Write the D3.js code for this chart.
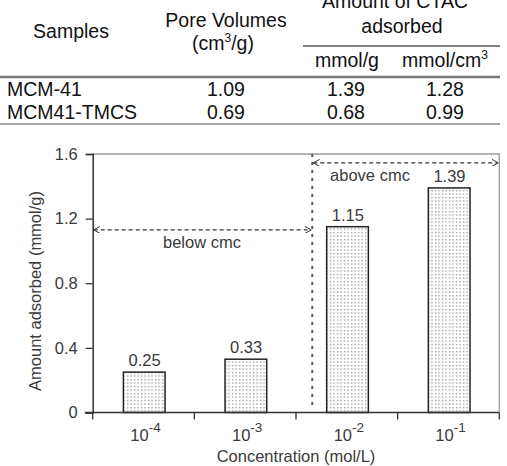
<!DOCTYPE html>
<html>
<head>
<meta charset="utf-8">
<script src="https://cdn.jsdelivr.net/npm/d3@7"></script>
<style>
	body { margin: 0; background: #fff; }
	svg { display: block; }
</style>
</head>
<body>
<script>
// table data
let tableSamples = ["MCM-41", "MCM41-TMCS"];
let porevolumes = ["1.09", "0.69"];
let adsorbedPerGram = ["1.39", "0.68"];
let adsorbedPerCm3 = ["1.28", "0.99"];

// chart data
let concentrations = ["-4", "-3", "-2", "-1"];
let amounts = [0.25, 0.33, 1.15, 1.39];
let yTicks = [0, 0.4, 0.8, 1.2, 1.6];

let width = 507;
let height = 466;
let tableFont = "'Liberation Sans', Arial, sans-serif";

let svg = d3.select("body")
	.append("svg")
	.attr("width", width)
	.attr("height", height);

drawTable();
drawChart();

function drawTable() {
	let g = svg.append("g")
		.attr("font-family", tableFont)
		.attr("font-size", 19.5)
		.attr("fill", "#111");

	let colX = [7, 226, 346, 445];

	g.append("text").attr("x", 71).attr("y", 38)
		.attr("text-anchor", "middle").text("Samples");
	g.append("text").attr("x", 226).attr("y", 27)
		.attr("text-anchor", "middle").text("Pore Volumes");
	let cm = g.append("text").attr("x", 223).attr("y", 50)
		.attr("text-anchor", "middle");
	cm.append("tspan").text("(cm");
	cm.append("tspan").attr("dy", -8).attr("font-size", 12).text("3");
	cm.append("tspan").attr("dy", 8).text("/g)");

	g.append("text").attr("x", 395).attr("y", 8)
		.attr("text-anchor", "middle").text("Amount of CTAC");
	g.append("text").attr("x", 402).attr("y", 33)
		.attr("text-anchor", "middle").text("adsorbed");

	g.append("line")
		.attr("x1", 303).attr("x2", 500)
		.attr("y1", 46).attr("y2", 46)
		.attr("stroke", "#555").attr("stroke-width", 1.5);

	g.append("text").attr("x", 347).attr("y", 67)
		.attr("text-anchor", "middle").text("mmol/g");
	let mc = g.append("text").attr("x", 445).attr("y", 67)
		.attr("text-anchor", "middle");
	mc.append("tspan").text("mmol/cm");
	mc.append("tspan").attr("dy", -8).attr("font-size", 12).text("3");

	g.append("line")
		.attr("x1", 0).attr("x2", 500)
		.attr("y1", 77).attr("y2", 77)
		.attr("stroke", "#777").attr("stroke-width", 2.5);
	g.append("line")
		.attr("x1", 0).attr("x2", 500)
		.attr("y1", 124).attr("y2", 124)
		.attr("stroke", "#888").attr("stroke-width", 1.5);

	let rows = tableSamples.map((s, i) => [s, porevolumes[i], adsorbedPerGram[i], adsorbedPerCm3[i]]);
	rows.forEach((row, r) => {
		row.forEach((cell, c) => {
			g.append("text")
				.attr("x", colX[c])
				.attr("y", 96 + r * 23)
				.attr("text-anchor", c == 0 ? "start" : "middle")
				.text(cell);
		});
	});
}

function drawChart() {
	let left = 92.7;
	let right = 499.3;
	let top = 154;
	let bottom = 412.5;
	let textColor = "#3a3a3a";

	let defs = svg.append("defs");
	let pattern = defs.append("pattern")
		.attr("id", "dots")
		.attr("patternUnits", "userSpaceOnUse")
		.attr("width", 3.5)
		.attr("height", 3.5);
	pattern.append("rect").attr("width", 3.5).attr("height", 3.5).attr("fill", "#fff");
	pattern.append("rect").attr("x", 1).attr("y", 1)
		.attr("width", 1.2).attr("height", 1.2).attr("fill", "#777");

	defs.append("marker")
		.attr("id", "arrow")
		.attr("viewBox", "0 0 10 10")
		.attr("refX", 10).attr("refY", 5)
		.attr("markerWidth", 7).attr("markerHeight", 7)
		.attr("markerUnits", "userSpaceOnUse")
		.attr("orient", "auto-start-reverse")
		.append("path")
		.attr("d", "M1,0 L10,5 L1,10")
		.attr("fill", "none")
		.attr("stroke", "#333")
		.attr("stroke-width", 1.4);

	let xScale = d3.scaleBand()
		.domain(concentrations)
		.range([left, right])
		.padding(0);
	let yScale = d3.scaleLinear()
		.domain([0, 1.6])
		.range([bottom, top]);

	let chart = svg.append("g")
		.attr("font-family", tableFont)
		.attr("font-size", 16.5)
		.attr("fill", textColor);

	// frame top and right
	chart.append("path")
		.attr("d", "M" + left + "," + top + "H" + right + "V" + bottom)
		.attr("fill", "none")
		.attr("stroke", "#9a9a9a")
		.attr("stroke-width", 1.3);

	// bars
	let barWidth = xScale.bandwidth() * 0.41;
	chart.selectAll("rect.bar")
		.data(amounts)
		.enter()
		.append("rect")
		.attr("class", "bar")
		.attr("x", (d, i) => xScale(concentrations[i]) + xScale.bandwidth() / 2 - barWidth / 2 + 0.7)
		.attr("y", (d) => yScale(d))
		.attr("width", barWidth)
		.attr("height", (d) => bottom - yScale(d))
		.attr("fill", "url(#dots)")
		.attr("stroke", "#222")
		.attr("stroke-width", 1.5);

	chart.selectAll("text.value")
		.data(amounts)
		.enter()
		.append("text")
		.attr("class", "value")
		.attr("x", (d, i) => xScale(concentrations[i]) + xScale.bandwidth() / 2 + 1)
		.attr("y", (d) => yScale(d) - 6)
		.attr("text-anchor", "middle")
		.text((d) => d3.format(".2f")(d));

	// y axis
	let yAxis = d3.axisLeft(yScale)
		.tickValues(yTicks)
		.tickSize(7)
		.tickPadding(8)
		.tickFormat((d) => d == 0 ? "0" : d3.format(".1f")(d));
	let yg = chart.append("g")
		.attr("transform", "translate(" + left + ",0)")
		.call(yAxis);
	yg.select(".domain").attr("stroke", "#333").attr("stroke-width", 1.5);
	yg.selectAll(".tick line").attr("stroke", "#333").attr("stroke-width", 1.3);
	yg.selectAll(".tick text")
		.attr("font-family", tableFont)
		.attr("font-size", 16.5)
		.attr("fill", textColor);

	// x axis: ticks at band boundaries
	let xg = chart.append("g")
		.attr("transform", "translate(0," + bottom + ")");
	xg.append("line")
		.attr("x1", left - 8).attr("x2", right)
		.attr("stroke", "#333").attr("stroke-width", 1.5);
	let edges = concentrations.map((c) => xScale(c)).concat([right]);
	xg.selectAll("line.tick")
		.data(edges)
		.enter()
		.append("line")
		.attr("class", "tick")
		.attr("x1", (d) => d).attr("x2", (d) => d)
		.attr("y1", 0).attr("y2", 7)
		.attr("stroke", "#333").attr("stroke-width", 1.3);
	let labels = xg.selectAll("text.xlabel")
		.data(concentrations)
		.enter()
		.append("text")
		.attr("class", "xlabel")
		.attr("x", (d) => xScale(d) + xScale.bandwidth() / 2 + 2)
		.attr("y", 28)
		.attr("text-anchor", "middle");
	labels.append("tspan").text("10");
	labels.append("tspan").attr("dy", -9).attr("font-size", 13.5).text((d) => d);

	// axis titles
	chart.append("text")
		.attr("x", (left + right) / 2)
		.attr("y", 462)
		.attr("text-anchor", "middle")
		.text("Concentration (mol/L)");
	chart.append("text")
		.attr("transform", "translate(41," + 291 + ") rotate(-90)")
		.attr("text-anchor", "middle")
		.text("Amount adsorbed (mmol/g)");

	// cmc divider
	let cmcX = xScale("-2") + xScale.bandwidth() * 0.16;
	chart.append("line")
		.attr("x1", cmcX).attr("x2", cmcX)
		.attr("y1", top).attr("y2", bottom - 6)
		.attr("stroke", "#555")
		.attr("stroke-width", 2)
		.attr("stroke-dasharray", "3,5");

	// range arrows
	let belowY = yScale(1.13);
	let aboveY = yScale(1.545);
	chart.append("line")
		.attr("x1", left + 1).attr("x2", cmcX - 1)
		.attr("y1", belowY).attr("y2", belowY)
		.attr("stroke", "#333").attr("stroke-width", 1.3)
		.attr("stroke-dasharray", "4,3")
		.attr("marker-start", "url(#arrow)")
		.attr("marker-end", "url(#arrow)");
	chart.append("line")
		.attr("x1", cmcX + 1).attr("x2", right - 1)
		.attr("y1", aboveY).attr("y2", aboveY)
		.attr("stroke", "#333").attr("stroke-width", 1.3)
		.attr("stroke-dasharray", "4,3")
		.attr("marker-start", "url(#arrow)")
		.attr("marker-end", "url(#arrow)");
	chart.append("text")
		.attr("x", 202).attr("y", belowY + 18)
		.attr("text-anchor", "middle")
		.text("below cmc");
	chart.append("text")
		.attr("x", 370).attr("y", aboveY + 18)
		.attr("text-anchor", "middle")
		.text("above cmc");
}
</script>
</body>
</html>
